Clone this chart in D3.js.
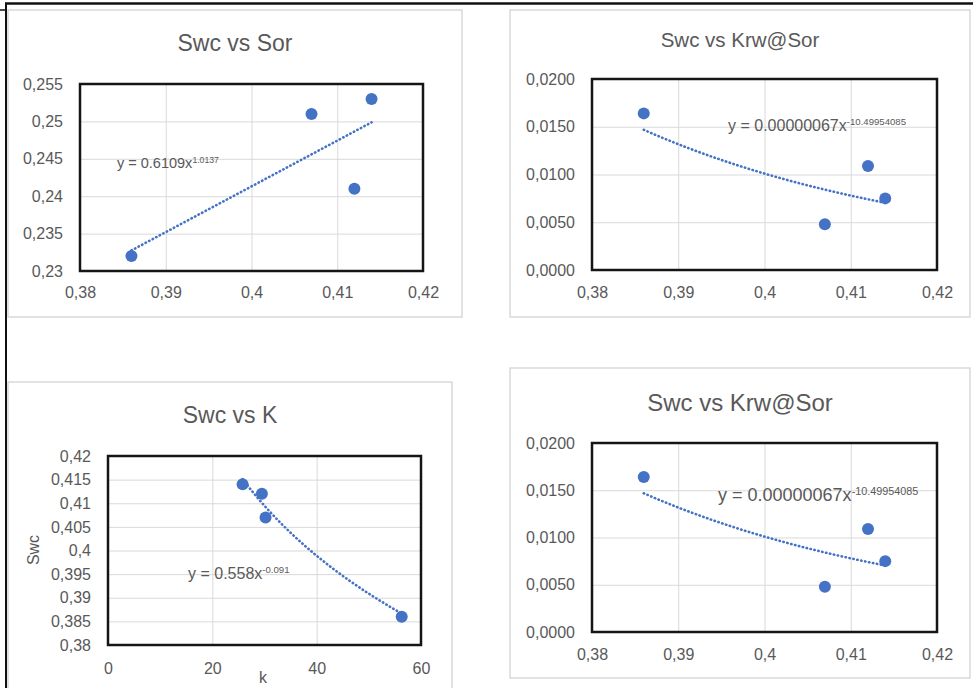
<!DOCTYPE html>
<html>
<head>
<meta charset="utf-8">
<script src="https://cdn.jsdelivr.net/npm/d3@7"></script>
<style>
  body { margin: 0; background: #fff; }
  svg { display: block; font-family: "Liberation Sans", Arial, sans-serif; }
</style>
</head>
<body>
<svg id="chart" width="973" height="688"></svg>
<script>
// values
const swc = [0.386, 0.407, 0.412, 0.414];
const sor = [0.232, 0.251, 0.241, 0.253];
const krwAtSor = [0.0164, 0.0048, 0.0109, 0.0075];
const perm = [56.3, 30.2, 29.5, 25.8];

// power trendlines y = a * x^b as printed on the charts
const sorFit = { a: 0.6109, b: 1.0137, text: "y = 0.6109x", sup: "1.0137" };
const krwFit = { a: 0.00000067, b: -10.49954085, text: "y = 0.00000067x", sup: "-10.49954085" };
const permFit = { a: 0.558, b: -0.091, text: "y = 0.558x", sup: "-0.091" };

// tick values
const swcTicks = [0.38, 0.39, 0.4, 0.41, 0.42];
const sorTicks = [0.23, 0.235, 0.24, 0.245, 0.25, 0.255];
const krwTicks = [0, 0.005, 0.01, 0.015, 0.02];
const swcTicksY = [0.38, 0.385, 0.39, 0.395, 0.4, 0.405, 0.41, 0.415, 0.42];
const kTicks = [0, 20, 40, 60];

const svg = d3.select("#chart");
const locale = d3.formatLocale({ decimal: ",", thousands: ".", grouping: [3], currency: ["", ""] });
const fmtGeneral = locale.format(".3~f");
const fmtFixed4 = locale.format(".4f");

const textColor = "#595959";
const dotColor = "#4472c4";

// page frame (scan edges)
svg.append("line").attr("x1", 5).attr("x2", 973).attr("y1", 3.5).attr("y2", 3.5)
   .attr("stroke", "#111").attr("stroke-width", 2.5);
svg.append("line").attr("x1", 6).attr("x2", 6).attr("y1", 3).attr("y2", 688)
   .attr("stroke", "#111").attr("stroke-width", 2);
svg.append("line").attr("x1", 0).attr("x2", 6).attr("y1", 10).attr("y2", 10)
   .attr("stroke", "#111").attr("stroke-width", 1.5);

function drawPanel(p) {
  const g = svg.append("g");
  const [bx, by, bw, bh] = p.box;
  const [px, py, pw, ph] = p.plot;

  g.append("rect")
    .attr("x", bx).attr("y", by).attr("width", bw).attr("height", bh)
    .attr("fill", "#fff").attr("stroke", "#d9d9d9").attr("stroke-width", 1.5);

  g.append("text")
    .attr("x", bx + bw / 2).attr("y", p.titleY).attr("dy", "0.35em")
    .attr("text-anchor", "middle").attr("font-size", p.titleSize)
    .attr("fill", textColor).text(p.title);

  const x = d3.scaleLinear().domain(p.xDomain).range([px, px + pw]);
  const y = d3.scaleLinear().domain(p.yDomain).range([py + ph, py]);

  // gridlines
  g.append("g")
    .attr("transform", `translate(0,${py + ph})`)
    .call(d3.axisBottom(x).tickValues(p.xTicks).tickSize(-ph).tickFormat(""))
    .call(a => a.select(".domain").remove())
    .selectAll("line").attr("stroke", "#d9d9d9");
  g.append("g")
    .attr("transform", `translate(${px},0)`)
    .call(d3.axisLeft(y).tickValues(p.yTicks).tickSize(-pw).tickFormat(""))
    .call(a => a.select(".domain").remove())
    .selectAll("line").attr("stroke", "#d9d9d9");

  // tick labels
  const xAxis = g.append("g")
    .attr("transform", `translate(0,${py + ph})`)
    .call(d3.axisBottom(x).tickValues(p.xTicks).tickSize(0).tickPadding(p.xPad).tickFormat(p.xFormat));
  const yAxis = g.append("g")
    .attr("transform", `translate(${px},0)`)
    .call(d3.axisLeft(y).tickValues(p.yTicks).tickSize(0).tickPadding(17).tickFormat(p.yFormat));
  [xAxis, yAxis].forEach(a => {
    a.select(".domain").remove();
    a.selectAll("text").attr("fill", textColor).attr("font-size", 16)
      .attr("font-family", "Liberation Sans, Arial, sans-serif");
  });

  // dark frame round the plot area
  g.append("rect")
    .attr("x", px).attr("y", py).attr("width", pw).attr("height", ph)
    .attr("fill", "none").attr("stroke", "#151515").attr("stroke-width", 2.5);

  // trendline from the printed equation, over the span of the data
  const xs = p.xs, ys = p.ys, fit = p.fit;
  const lo = d3.min(xs), hi = d3.max(xs);
  const curve = d3.range(0, 41).map(i => {
    const xv = lo + (hi - lo) * i / 40;
    return [xv, fit.a * Math.pow(xv, fit.b)];
  });
  g.append("path")
    .datum(curve)
    .attr("d", d3.line().x(d => x(d[0])).y(d => y(d[1])))
    .attr("fill", "none").attr("stroke", dotColor).attr("stroke-width", 2.6)
    .attr("stroke-dasharray", "0.4,3.6").attr("stroke-linecap", "round");

  // points
  g.selectAll("circle.pt")
    .data(xs.map((v, i) => [v, ys[i]]))
    .enter().append("circle")
    .attr("class", "pt")
    .attr("cx", d => x(d[0])).attr("cy", d => y(d[1]))
    .attr("r", 6).attr("fill", dotColor);

  // equation label
  const lab = g.append("text")
    .attr("x", p.labelX).attr("y", p.labelY).attr("dy", "0.35em")
    .attr("font-size", p.labelSize).attr("fill", textColor);
  lab.append("tspan").text(fit.text);
  lab.append("tspan").attr("dy", -p.labelSize * 0.35)
    .attr("font-size", p.labelSize * 0.6).text(fit.sup);

  if (p.yTitle) {
    g.append("text")
      .attr("transform", `translate(${p.yTitle[0]},${p.yTitle[1]}) rotate(-90)`)
      .attr("text-anchor", "middle").attr("dy", "0.35em")
      .attr("font-size", 16).attr("fill", textColor).text("Swc");
  }
  if (p.xTitle) {
    g.append("text")
      .attr("x", p.xTitle[0]).attr("y", p.xTitle[1]).attr("dy", "0.35em")
      .attr("text-anchor", "middle")
      .attr("font-size", 16).attr("fill", textColor).text("k");
  }
}

drawPanel({
  box: [8, 10, 454, 307], plot: [80, 84, 343, 187],
  title: "Swc vs Sor", titleY: 43, titleSize: 23,
  xDomain: [0.38, 0.42], yDomain: [0.23, 0.255],
  xTicks: swcTicks, yTicks: sorTicks, xFormat: fmtGeneral, yFormat: fmtGeneral, xPad: 16,
  xs: swc, ys: sor, fit: sorFit,
  labelX: 117, labelY: 163, labelSize: 14.5
});

drawPanel({
  box: [510, 10, 460, 307], plot: [592, 79, 345, 191],
  title: "Swc vs Krw@Sor", titleY: 40, titleSize: 20.5,
  xDomain: [0.38, 0.42], yDomain: [0, 0.02],
  xTicks: swcTicks, yTicks: krwTicks, xFormat: fmtGeneral, yFormat: fmtFixed4, xPad: 17,
  xs: swc, ys: krwAtSor, fit: krwFit,
  labelX: 728, labelY: 125, labelSize: 16
});

drawPanel({
  box: [8, 382, 444, 320], plot: [108, 456, 313, 189],
  title: "Swc vs K", titleY: 415, titleSize: 23,
  xDomain: [0, 60], yDomain: [0.38, 0.42],
  xTicks: kTicks, yTicks: swcTicksY, xFormat: fmtGeneral, yFormat: fmtGeneral, xPad: 18,
  xs: perm, ys: swc, fit: permFit,
  labelX: 188, labelY: 573, labelSize: 16,
  yTitle: [33, 550], xTitle: [263, 677]
});

drawPanel({
  box: [510, 368, 460, 310], plot: [592, 443, 345, 189],
  title: "Swc vs Krw@Sor", titleY: 403, titleSize: 24,
  xDomain: [0.38, 0.42], yDomain: [0, 0.02],
  xTicks: swcTicks, yTicks: krwTicks, xFormat: fmtGeneral, yFormat: fmtFixed4, xPad: 17,
  xs: swc, ys: krwAtSor, fit: krwFit,
  labelX: 718, labelY: 495, labelSize: 18
});
</script>
</body>
</html>
